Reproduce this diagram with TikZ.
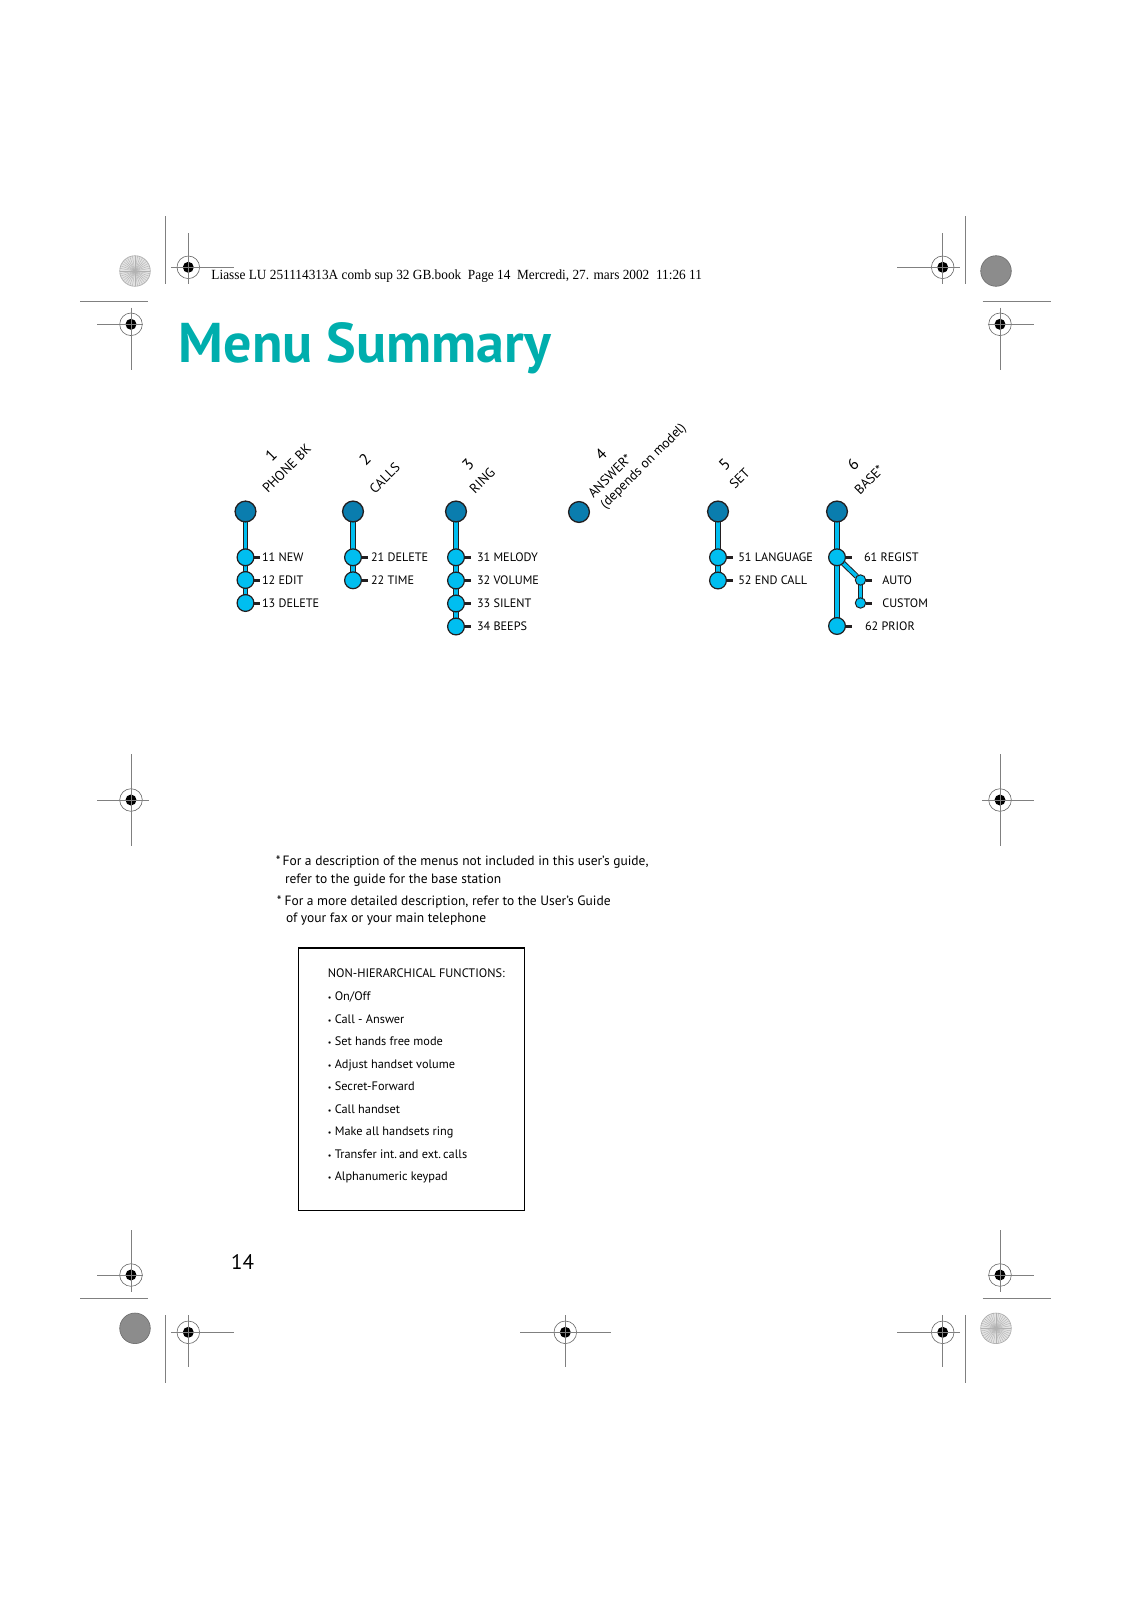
\documentclass[tikz,border=0pt]{standalone}
\usepackage{fontspec}
\setmainfont{PT Sans}
\newfontfamily\headfont{Liberation Serif}
\usetikzlibrary{positioning,backgrounds}
\definecolor{menuteal}{HTML}{00AEAD}
\definecolor{menudark}{HTML}{0A7DAE}
\definecolor{menulight}{HTML}{00BEF0}
\definecolor{menuline}{HTML}{231F20}
\definecolor{markgray}{HTML}{808080}

\tikzset{
  root/.style={circle,draw=menuline,line width=1.3pt,fill=menudark,minimum size=20.8pt,inner sep=0pt,outer sep=0pt},
  leaf/.style={circle,draw=menuline,line width=1.2pt,fill=menulight,minimum size=16.8pt,inner sep=0pt,outer sep=0pt},
  subleaf/.style={leaf,line width=1pt,minimum size=10.4pt},
  bar/.style={draw=menuline,line width=1pt,double=menulight,double distance=3.5pt},
  widebar/.style={bar,double distance=4.5pt},
  stub/.style={draw=menuline,line width=3pt},
  item/.style={anchor=west,inner sep=0pt,outer sep=0pt,font=\fontsize{12.2}{14}\selectfont},
  menunum/.style={rotate=45,inner sep=0pt,font=\fontsize{16}{18}\selectfont},
  menuname/.style={rotate=45,anchor=base west,inner sep=0pt,font=\fontsize{13.5}{15}\selectfont},
  markline/.style={markgray,line width=0.8pt},
  noteline/.style={anchor=base west,inner sep=0pt,font=\fontsize{13.5}{15}\selectfont},
  boxline/.style={anchor=base west,inner sep=0pt,font=\fontsize{12.3}{14}\selectfont},
}
\newcommand{\funcdot}{{\fontsize{8}{8}\selectfont •}}

\begin{document}
\begin{tikzpicture}[x=1pt,y=-1pt]
  \useasboundingbox (0,0) rectangle (1131,1600);

  % crop and registration marks
  \fill[gray!22] (135,271) circle[radius=15.3];
  \foreach \a in {0,10,...,350}
    \draw[gray!60,line width=0.4pt] (135,271) -- +(\a:15.3);
  \draw[gray!65,line width=0.6pt] (135,271) circle[radius=15.3];
  \fill[gray!22] (996,1328.3) circle[radius=15.3];
  \foreach \a in {0,10,...,350}
    \draw[gray!60,line width=0.4pt] (996,1328.3) -- +(\a:15.3);
  \draw[gray!65,line width=0.6pt] (996,1328.3) circle[radius=15.3];
  \filldraw[fill=gray!90,draw=gray!85!black,line width=0.6pt] (996,271) circle[radius=15.3];
  \filldraw[fill=gray!90,draw=gray!85!black,line width=0.6pt] (135,1328.3) circle[radius=15.3];

  \foreach \x/\y in {188.3/267.3,131/324.3,942.7/267.3,1000/324.3,131/800,1000/800,
                     131/1275,1000/1275,188.3/1332.3,942.7/1332.3,565.3/1332.3} {
    \draw[gray!80!black,line width=0.6pt] (\x,\y) circle[radius=11.3];
    \fill (\x,\y) circle[radius=5.5];
  }
  \draw[markline] (171,267.3) -- (233.7,267.3) (188.3,233.3) -- (188.3,284);
  \draw[markline] (97,324.3) -- (143.3,324.3) (131,307.7) -- (131,370);
  \draw[markline] (897.3,267.3) -- (960,267.3) (942.7,233.3) -- (942.7,284);
  \draw[markline] (987.7,324.3) -- (1034,324.3) (1000,307.7) -- (1000,370);
  \draw[markline] (97.3,800) -- (149,800) (131,754) -- (131,845.7);
  \draw[markline] (982,800) -- (1033.7,800) (1000,754) -- (1000,845.7);
  \draw[markline] (97,1275) -- (143.3,1275) (131,1230) -- (131,1292.3);
  \draw[markline] (987.7,1275) -- (1034,1275) (1000,1230) -- (1000,1292.3);
  \draw[markline] (171,1332.3) -- (233.7,1332.3) (188.3,1315) -- (188.3,1366.7);
  \draw[markline] (897.3,1332.3) -- (960,1332.3) (942.7,1315) -- (942.7,1366.7);
  \draw[markline] (520,1332.3) -- (611,1332.3) (565.3,1315) -- (565.3,1366.7);
  \draw[markline] (165.7,216) -- (165.7,284) (80,301) -- (148.3,301);
  \draw[markline] (965.3,216) -- (965.3,284) (982.7,301) -- (1051,301);
  \draw[markline] (80,1298.3) -- (148.3,1298.3) (165.7,1315) -- (165.7,1383.3);
  \draw[markline] (982.7,1298.3) -- (1051,1298.3) (965.3,1315) -- (965.3,1383.3);

  \node[anchor=base west,inner sep=0pt,font=\headfont\fontsize{14}{16}\selectfont,xscale=0.95] (header)
    at (211.3,279) {Liasse LU 251114313A comb sup 32 GB.book\ \ Page 14\ \ Mercredi, 27. mars 2002\ \ 11:26 11};

  \node[anchor=base west,inner sep=0pt,text=menuteal,font=\fontsize{56}{62}\selectfont\bfseries] (title)
    at (178.6,362.4) {Menu Summary};

  % menu headings
  \node[menunum] (n1) at (271,455.5) {1};
  \node[menuname] (h1) at (268,494) {PHONE BK};
  \node[menunum] (n2) at (365,459.5) {2};
  \node[menuname] (h2) at (375,494.5) {CALLS};
  \node[menunum] (n3) at (468,464.5) {3};
  \node[menuname] (h3) at (475,494.5) {RING};
  \node[menunum] (n4) at (601,454.5) {4};
  \node[menuname] (h4) at (593.5,499) {ANSWER*};
  \node[menuname] (h4b) at (605.5,509.5) {(depends on model)};
  \node[menunum] (n5) at (724.5,464.5) {5};
  \node[menuname] (h5) at (735,490) {SET};
  \node[menunum] (n6) at (853,464.5) {6};
  \node[menuname] (h6) at (860,495.5) {BASE*};

  % menu 1
  \node[root] (r1) at (245.5,511.5) {};
  \node[leaf] (c11) at (245.5,557.3) {};
  \node[leaf] (c12) at (245.5,580) {};
  \node[leaf] (c13) at (245.5,603) {};
  \draw[stub] (c11.east) -- ++(6.5,0);
  \draw[stub] (c12.east) -- ++(6.5,0);
  \draw[stub] (c13.east) -- ++(6.5,0);
  \node[item] (t11) at (262,557.3) {11 NEW};
  \node[item] (t12) at (262,580) {12 EDIT};
  \node[item] (t13) at (262,603) {13 DELETE};

  % menu 2
  \node[root] (r2) at (353,511.5) {};
  \node[leaf] (c21) at (353,557.3) {};
  \node[leaf] (c22) at (353,580.3) {};
  \draw[stub] (c21.east) -- ++(6.5,0);
  \draw[stub] (c22.east) -- ++(6.5,0);
  \node[item] (t21) at (371,557.3) {21 DELETE};
  \node[item] (t22) at (371,580.3) {22 TIME};

  % menu 3
  \node[root] (r3) at (456,511.5) {};
  \node[leaf] (c31) at (456,557.3) {};
  \node[leaf] (c32) at (456,580.5) {};
  \node[leaf] (c33) at (456,603.5) {};
  \node[leaf] (c34) at (456,626.5) {};
  \draw[stub] (c31.east) -- ++(6.5,0);
  \draw[stub] (c32.east) -- ++(6.5,0);
  \draw[stub] (c33.east) -- ++(6.5,0);
  \draw[stub] (c34.east) -- ++(6.5,0);
  \node[item] (t31) at (477,557.3) {31 MELODY};
  \node[item] (t32) at (477,580.5) {32 VOLUME};
  \node[item] (t33) at (477,603.5) {33 SILENT};
  \node[item] (t34) at (477,626.5) {34 BEEPS};

  % menu 4
  \node[root] (r4) at (579,512) {};

  % menu 5
  \node[root] (r5) at (718,511.5) {};
  \node[leaf] (c51) at (718,557.3) {};
  \node[leaf] (c52) at (718,580.5) {};
  \draw[stub] (c51.east) -- ++(6.5,0);
  \draw[stub] (c52.east) -- ++(6.5,0);
  \node[item] (t51) at (738.3,557.3) {51 LANGUAGE};
  \node[item] (t52) at (738.3,580.5) {52 END CALL};

  % menu 6
  \node[root] (r6) at (837,511.5) {};
  \node[leaf] (c61) at (837,557.3) {};
  \node[subleaf] (c6a) at (860.5,580) {};
  \node[subleaf] (c6b) at (860.5,603) {};
  \node[leaf] (c62) at (837,626) {};
  \draw[stub] (c61.east) -- ++(6.5,0);
  \draw[stub] (c6a.east) -- ++(6,0);
  \draw[stub] (c6b.east) -- ++(6,0);
  \draw[stub] (c62.east) -- ++(6.5,0);
  \node[item] (t61) at (864,557.3) {61 REGIST};
  \node[item] (t6a) at (882.3,580) {AUTO};
  \node[item] (t6b) at (882.3,603) {CUSTOM};
  \node[item] (t62) at (865,626) {62 PRIOR};

  \begin{scope}[on background layer]
    \draw[bar] (r1) -- (c11);
    \draw[bar] (c11) -- (c12);
    \draw[bar] (c12) -- (c13);
    \draw[bar] (r2) -- (c21);
    \draw[bar] (c21) -- (c22);
    \draw[bar] (r3) -- (c31);
    \draw[bar] (c31) -- (c32);
    \draw[bar] (c32) -- (c33);
    \draw[bar] (c33) -- (c34);
    \draw[bar] (r5) -- (c51);
    \draw[bar] (c51) -- (c52);
    \draw[widebar] (r6) -- (c61);
    \draw[widebar] (c61) -- (c62);
    \draw[bar] (c61) -- (c6a);
    \draw[bar] (c6a) -- (c6b);
  \end{scope}

  % notes
  \node[noteline] (note1) at (275.6,865.6) {*\hspace{2pt}For a description of the menus not included in this user's guide,};
  \node[noteline] (note1b) at (284.8,883) {refer to the guide for the base station};
  \node[noteline] (note2) at (276.6,905.4) {*\hspace{3pt}For a more detailed description, refer to the User's Guide};
  \node[noteline] (note2b) at (285.8,922.7) {of your fax or your main telephone};

  % function box
  \node[draw,line width=1.2pt,anchor=north west,minimum width=225.7pt,minimum height=262.3pt,inner sep=0pt] (funcbox)
    at (298,947.3) {};
  \node[boxline] (f0) at (327.7,977.5) {NON-HIERARCHICAL FUNCTIONS:};
  \node[boxline] (f1) at (327.7,1000.5) {\funcdot\ On/Off};
  \node[boxline] (f2) at (327.7,1023) {\funcdot\ Call - Answer};
  \node[boxline] (f3) at (327.7,1045.5) {\funcdot\ Set hands free mode};
  \node[boxline] (f4) at (327.7,1068) {\funcdot\ Adjust handset volume};
  \node[boxline] (f5) at (327.7,1090.5) {\funcdot\ Secret-Forward};
  \node[boxline] (f6) at (327.7,1113) {\funcdot\ Call handset};
  \node[boxline] (f7) at (327.7,1135.5) {\funcdot\ Make all handsets ring};
  \node[boxline] (f8) at (327.7,1158) {\funcdot\ Transfer int.\,and ext.\,calls};
  \node[boxline] (f9) at (327.7,1180.5) {\funcdot\ Alphanumeric keypad};

  \node[inner sep=0pt,font=\fontsize{21}{24}\selectfont] (pagenum) at (242.5,1262.5) {14};
\end{tikzpicture}
\end{document}
